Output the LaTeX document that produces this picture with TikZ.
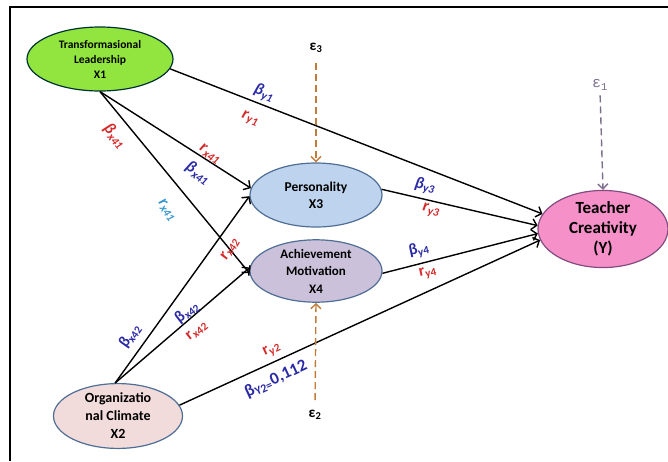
\documentclass[tikz,border=0pt]{standalone}
\usepackage{fontspec}
\setmainfont{Carlito}
\newfontfamily\epsmono{Liberation Mono}
\usetikzlibrary{shapes.geometric,arrows.meta}
\definecolor{lvgreen}{HTML}{92E53E}
\definecolor{lvblue}{HTML}{BDD3EE}
\definecolor{lvlav}{HTML}{CBC1DA}
\definecolor{lvpink}{HTML}{F590C8}
\definecolor{lvrose}{HTML}{F2DCDB}
\definecolor{edgeblue}{HTML}{4F6E96}
\definecolor{labblue}{HTML}{2A2AA6}
\definecolor{labred}{HTML}{D42A2A}
\definecolor{labcyan}{HTML}{3A9AD0}
\definecolor{errbrown}{HTML}{C27C3A}
\definecolor{errgray}{HTML}{7C6E8C}
\newcommand{\coef}[2]{#1\textsubscript{#2}}
\begin{document}
\begin{tikzpicture}[x=1pt,y=-1pt,
  var/.style={ellipse,draw=edgeblue,line width=1.2pt,inner sep=0pt,align=center,font=\bfseries},
  path/.style={line width=1.4pt,-{Straight Barb[length=5pt,width=11pt]}},
  err/.style={line width=1.4pt,dash pattern=on 7pt off 4pt,-{Straight Barb[length=5pt,width=10pt]}},
  lb/.style={text=labblue,font=\bfseries\itshape\fontsize{16.5}{16}\selectfont,inner sep=0pt},
  lr/.style={text=labred,font=\bfseries\itshape\fontsize{16.5}{16}\selectfont,inner sep=0pt},
  up/.style={font=\bfseries\fontsize{16}{16}\selectfont},
  eps/.style={font=\bfseries\fontsize{15}{15}\selectfont,inner sep=1pt}]
  \useasboundingbox (0,0) rectangle (668,461);
  % frame
  \draw[line width=1.6pt] (10,461) -- (10,7) -- (668,7);
  % variables
  \node[var,fill=lvgreen,draw=black!60!teal,minimum width=146pt,minimum height=64pt,font=\bfseries\fontsize{11.5}{15}\selectfont] (x1) at (100,59) {Transformasional\\Leadership\\X1};
  \node[var,fill=lvblue,minimum width=132pt,minimum height=64pt,font=\bfseries\fontsize{13.5}{17}\selectfont] (x3) at (316,195) {Personality\\X3};
  \node[var,fill=lvlav,minimum width=132pt,minimum height=62pt,font=\bfseries\fontsize{13}{17.5}\selectfont] (x4) at (316,271) {Achievement\\Motivation\\X4};
  \node[var,fill=lvpink,draw=black!40!violet!70,minimum width=130pt,minimum height=64pt,font=\bfseries\fontsize{17}{20}\selectfont] (y) at (603,229) {Teacher\\Creativity\\(Y)};
  \node[var,fill=lvrose,minimum width=129pt,minimum height=63pt,font=\bfseries\fontsize{14}{18}\selectfont] (x2) at (118,416) {Organizatio\\nal Climate\\X2};
  % error terms
  \node[eps] (e3) at (316,48) {ε\textsubscript{3}};
  \node[eps] (e2) at (315,415) {ε\textsubscript{2}};
  \node[font=\epsmono\fontsize{15}{15}\selectfont,text=errgray,inner sep=1pt] (e1) at (600,85) {ε\textsubscript{1}};
  % paths
  \draw[path] (x1.-8) -- (y.166);
  \draw[path] (x1.south) -- (x3.174);
  \draw[path] (x1.south) -- (x4.182);
  \draw[path] (x2.95) -- (x3.181);
  \draw[path] (x2.95) -- (x4.177);
  \draw[path] (x2.10) -- (y.190);
  \draw[path] (x3.5) -- (y.177);
  \draw[path] (x4.-2) -- (y.184);
  \draw[err,errbrown,shorten <=9pt] (e3.south) -- (x3.north);
  \draw[err,errbrown,shorten <=9pt] (e2.north) -- (x4.south);
  \draw[err,errgray,shorten <=4pt] (e1.south) -- (y.north);
  % coefficients
  \node[lb,rotate=-22] (by1) at (264,93) {\coef{β}{y1}};
  \node[lr,rotate=-22] (ry1) at (250,119) {\coef{r}{y1}};
  \node[lr,rotate=-50] (bx41) at (115,136) {\coef{β}{x41}};
  \node[lr,rotate=-35] (rx41) at (210,154) {\coef{r}{x41}};
  \node[lb,rotate=-35] (bx41b) at (198,173) {\coef{β}{x41}};
  \node[lr,rotate=-55,text=labcyan] (rx41c) at (167,210) {\coef{r}{x41}};
  \node[lr,rotate=60] (rx42) at (230,249) {\coef{r}{x42}};
  \node[lb,rotate=55,up] (bx42) at (130,336) {\coef{β}{x42}};
  \node[lb,rotate=38,up] (bx42b) at (187,312) {\coef{β}{x42}};
  \node[lr,rotate=38,up] (rx42b) at (197,331) {\coef{r}{x42}};
  \node[lr,rotate=25,up] (ry2) at (272,350) {\coef{r}{y2}};
  \node[lb,rotate=25,font=\bfseries\fontsize{17}{17}\selectfont] (by2) at (276,379) {\coef{β}{Y2=}0,112};
  \node[lb,rotate=-12] (by3) at (425,186) {\coef{β}{y3}};
  \node[lr,rotate=-12] (ry3) at (431,211) {\coef{r}{y3}};
  \node[lb,rotate=12,up] (by4) at (419,250) {\coef{β}{y4}};
  \node[lr,rotate=12,up] (ry4) at (428,273) {\coef{r}{y4}};
\end{tikzpicture}
\end{document}
